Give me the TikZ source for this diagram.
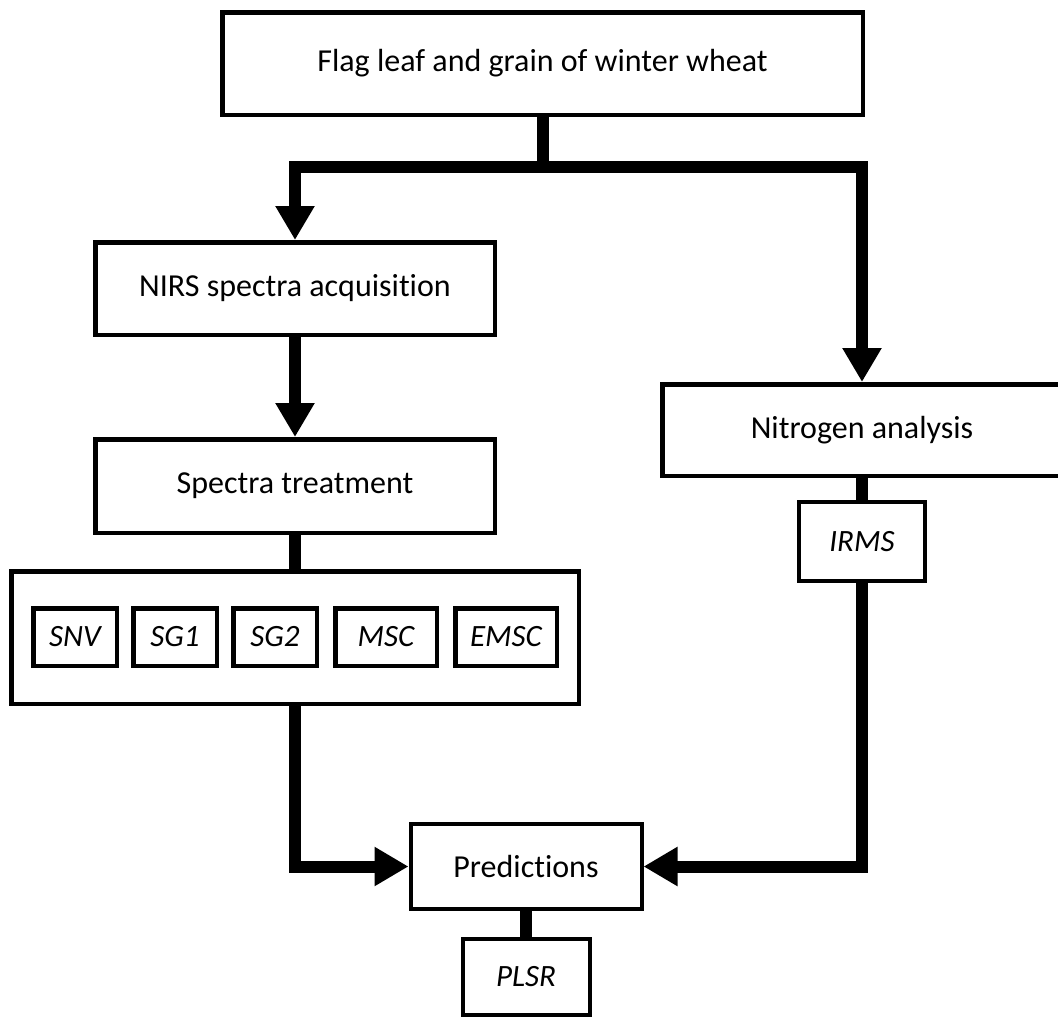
\documentclass[tikz,border=0pt]{standalone}
\usepackage{fontspec}
\setmainfont{Carlito}[Ligatures={NoCommon}]
\usetikzlibrary{arrows.meta}
\begin{document}
\begin{tikzpicture}[x=1pt,y=-1pt,
  box/.style={draw=black,line width=4.5pt,fill=white,inner sep=0pt,font=\fontsize{32}{38}\selectfont},
  smallbox/.style={box,font=\fontsize{31}{37}\selectfont\itshape},
  conn/.style={line width=12pt,draw=black},
  arr/.style={conn,-{Triangle[length=34pt,width=37pt]}}]
\useasboundingbox (0,0) rectangle (1058,1018);
% nodes
\node[box,minimum width=640.5pt,minimum height=102.5pt] (top) at (542.5,63.5) {Flag leaf and grain of winter wheat};
\node[box,minimum width=399.5pt,minimum height=92.5pt] (nirs) at (295,288.5) {NIRS spectra acquisition};
\node[box,minimum width=399.5pt,minimum height=93.5pt] (spec) at (295,486) {Spectra treatment};
\node[box,fill=none,minimum width=567.5pt,minimum height=132.5pt] (big) at (295,637.5) {};
\node[smallbox,minimum width=83.5pt,minimum height=57.5pt] (snv) at (75,637) {SNV};
\node[smallbox,minimum width=83.5pt,minimum height=57.5pt] (sg1) at (175,637) {SG1};
\node[smallbox,minimum width=83.5pt,minimum height=57.5pt] (sg2) at (275,637) {SG2};
\node[smallbox,minimum width=101.5pt,minimum height=57.5pt] (msc) at (386,637) {MSC};
\node[smallbox,minimum width=101.5pt,minimum height=57.5pt] (emsc) at (506,637) {EMSC};
\node[box,minimum width=399.5pt,minimum height=91.5pt] (nitro) at (862,430) {Nitrogen analysis};
\node[smallbox,line width=4pt,minimum width=126pt,minimum height=79pt] (irms) at (862,541.5) {IRMS};
\node[box,line width=4pt,minimum width=231pt,minimum height=85pt] (pred) at (526,866.5) {Predictions};
\node[smallbox,line width=4pt,minimum width=127pt,minimum height=76pt] (plsr) at (526,977) {PLSR};
% connectors
\coordinate (j) at (542.5,167);
\draw[arr] (top.south) -- (j) -| (nirs.north);
\draw[arr] (top.south) -- (j) -| (nitro.north);
\draw[arr] (nirs.south) -- (spec.north);
\draw[conn] (spec.south) -- (big.north);
\draw[arr] (big.south) |- (pred.west);
\draw[conn] (nitro.south) -- (irms.north);
\draw[arr] (irms.south) |- (pred.east);
\draw[conn] (pred.south) -- (plsr.north);
\end{tikzpicture}
\end{document}
